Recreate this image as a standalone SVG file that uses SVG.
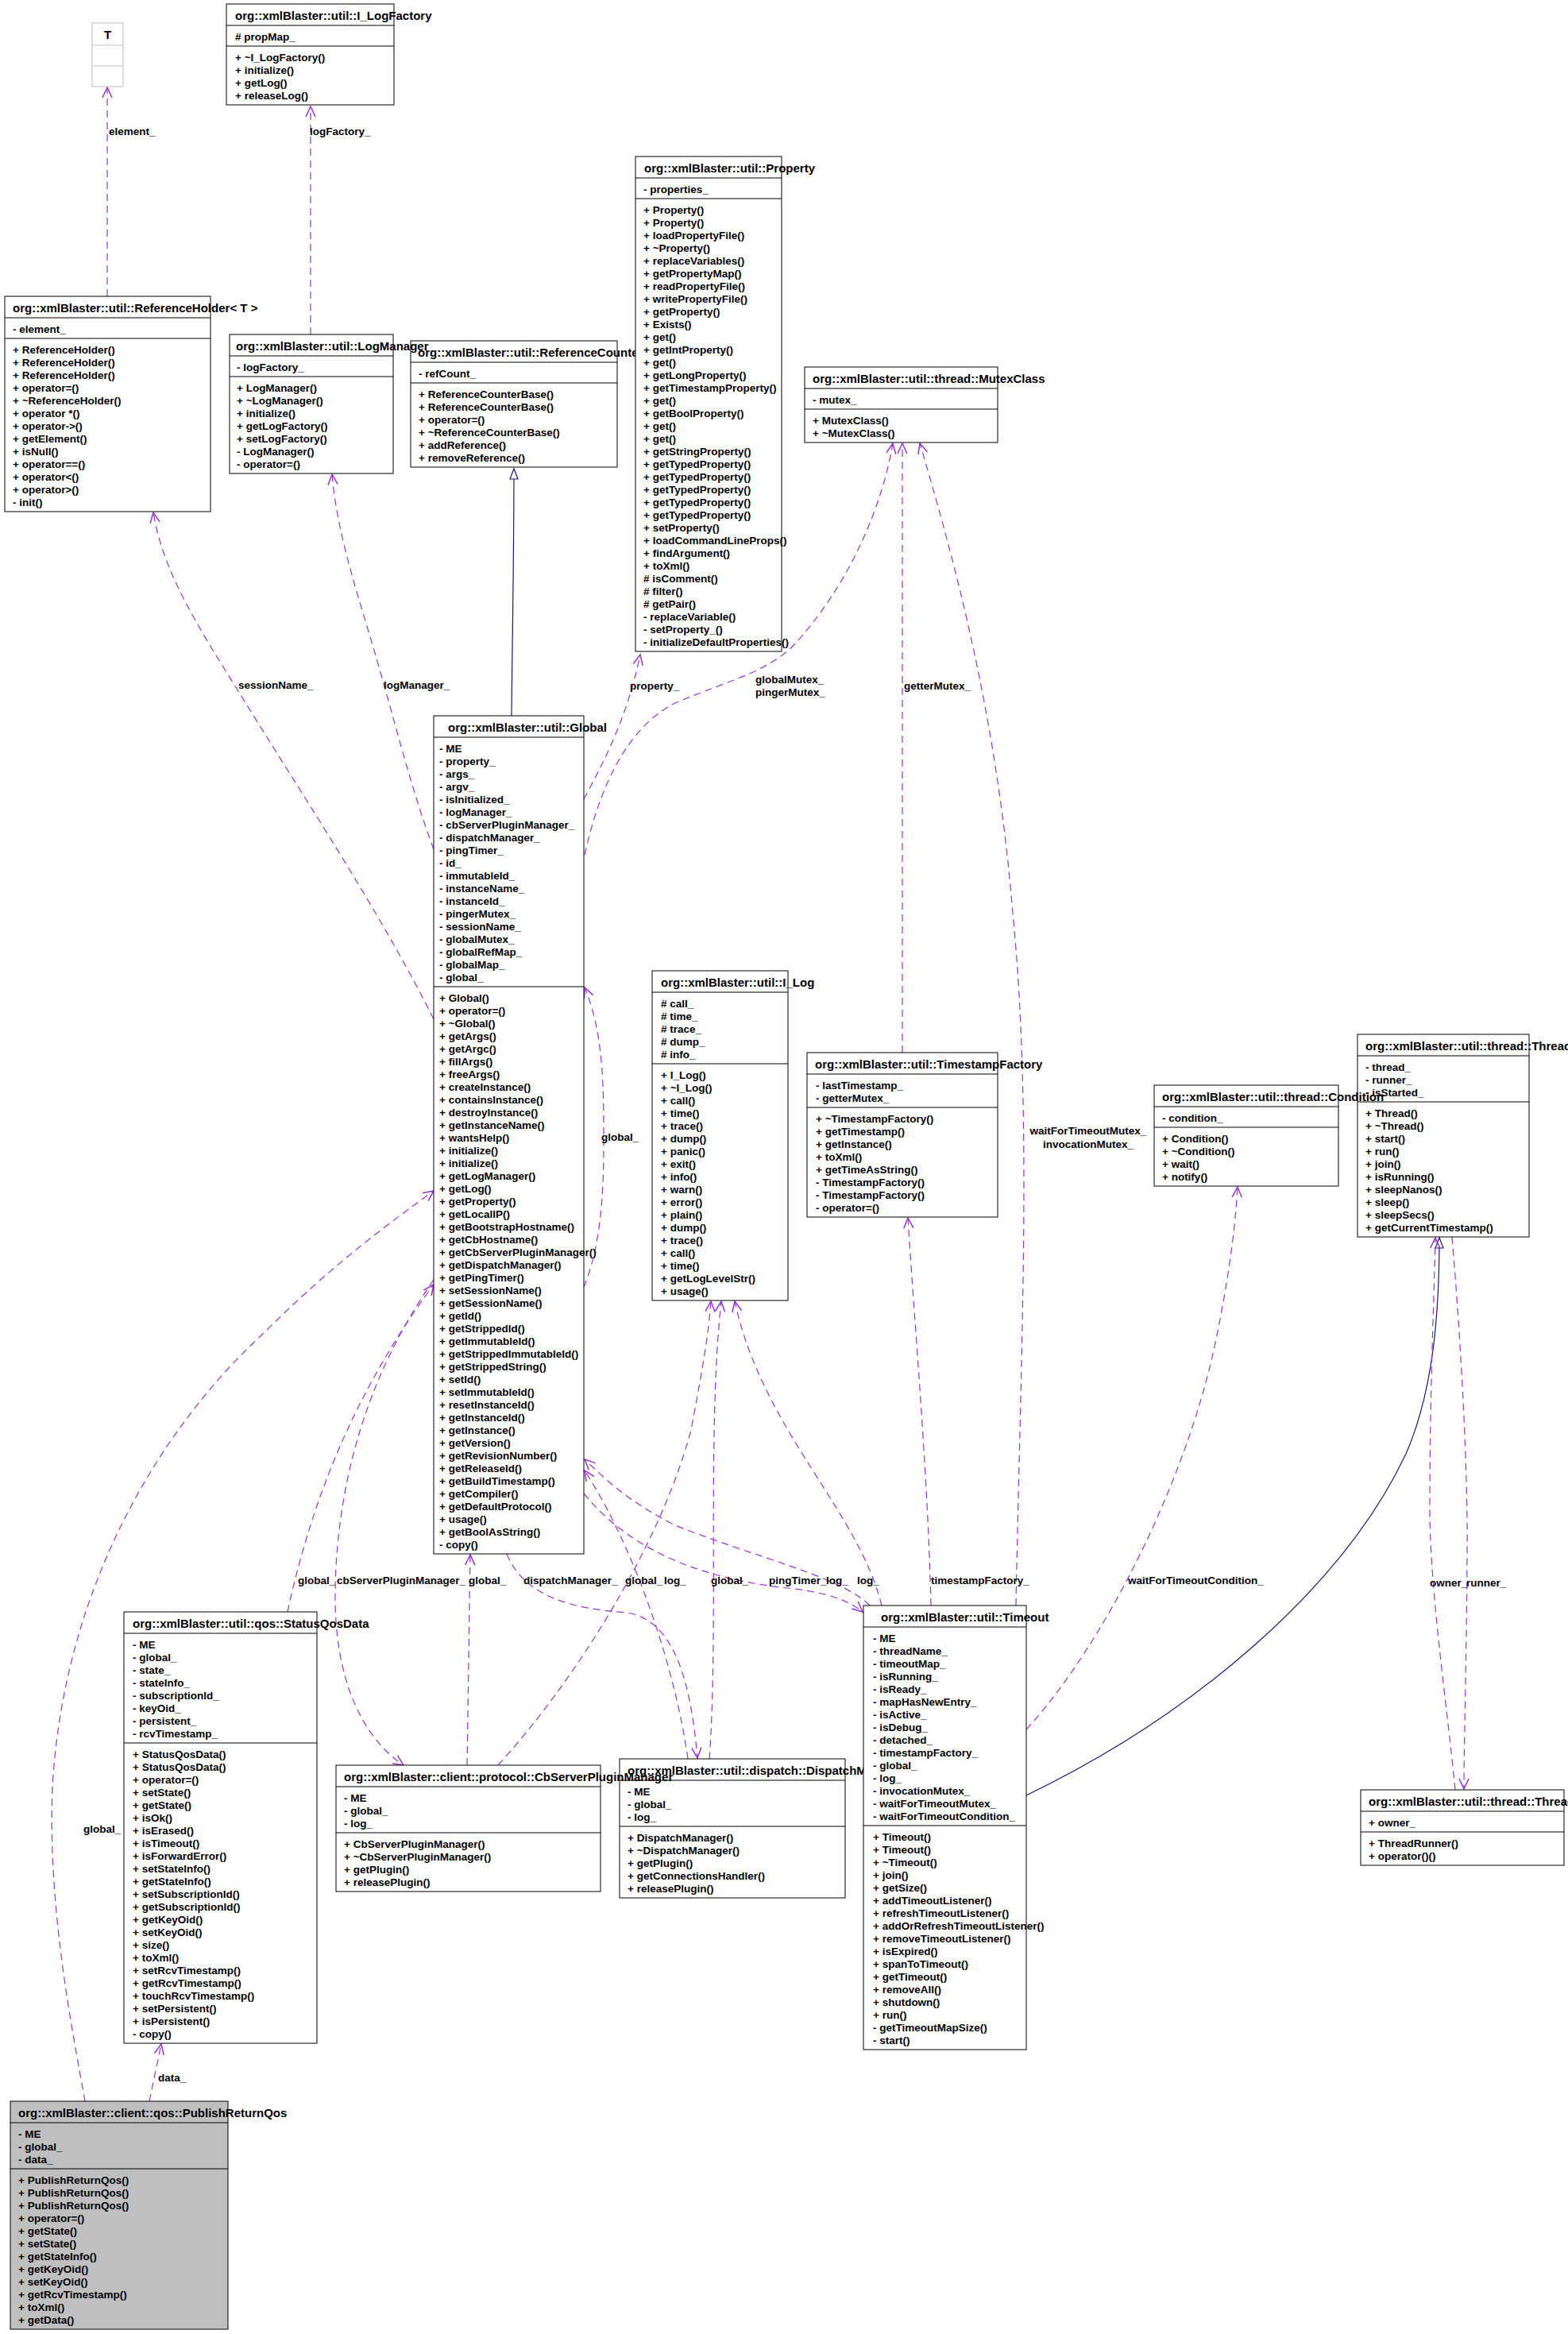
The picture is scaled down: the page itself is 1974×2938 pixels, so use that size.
<svg xmlns="http://www.w3.org/2000/svg" width="1974" height="2938" viewBox="0 0 1974 2938">
<style>
.b{fill:#fff;stroke:#000;stroke-width:1}
.g{fill:#bfbfbf;stroke:#000;stroke-width:1}
.s{stroke:#000;stroke-width:1}
text{font-family:"Liberation Sans",Arial,sans-serif;font-weight:bold;fill:#000}
.h{font-size:15px}
.m{font-size:13.5px}
.l{font-size:13.5px}
.e{fill:none;stroke:#9a32cd;stroke-width:1.2;stroke-dasharray:9,6}
.i{fill:none;stroke:#191970;stroke-width:1.2}
</style>
<defs>
<marker id="a" markerUnits="userSpaceOnUse" markerWidth="16" markerHeight="14" refX="13" refY="6" orient="auto" viewBox="-1 -1 16 14"><path d="M0,0 L13,6 L0,12" fill="none" stroke="#9a32cd" stroke-width="1.5" stroke-dasharray="none"/></marker>
<marker id="t" markerUnits="userSpaceOnUse" markerWidth="16" markerHeight="14" refX="13" refY="5" orient="auto" viewBox="-1 -1 16 14"><path d="M0,0 L13,5 L0,10 Z" fill="#fff" stroke="#191970" stroke-width="1.2" stroke-dasharray="none"/></marker>
</defs>
<rect width="1974" height="2938" fill="#fff"/>

<g id="edges">
<path class="e" marker-end="url(#a)" d="M135,373 L135,110"/>
<path class="e" marker-end="url(#a)" d="M391,421 L391,134"/>
<path class="i" marker-end="url(#t)" d="M644,901 C645,800 647,700 647,590"/>
<path class="e" marker-end="url(#a)" d="M735,1006 C765,950 790,900 806,824"/>
<path class="e" marker-end="url(#a)" d="M736,1076 C755,990 790,915 850,885 C920,855 975,845 1010,800 C1070,730 1110,640 1124,558"/>
<path class="e" marker-end="url(#a)" d="M1136,1325 L1136,558"/>
<path class="e" marker-end="url(#a)" d="M1279,2021 C1285,1700 1300,1400 1275,1150 C1255,900 1200,700 1158,558"/>
<path class="e" marker-end="url(#a)" d="M1172,2021 C1168,1850 1150,1650 1143,1533"/>
<path class="e" marker-end="url(#a)" d="M1292,2177 C1390,2070 1490,1870 1528,1700 C1545,1620 1555,1550 1558,1494"/>
<path class="i" marker-end="url(#t)" d="M1292,2260 C1500,2160 1690,2000 1770,1830 C1805,1750 1812,1650 1812,1558"/>
<path class="e" marker-end="url(#a)" d="M1832,2253 C1822,2150 1800,2000 1800,1900 C1800,1750 1805,1650 1807,1558"/>
<path class="e" marker-end="url(#a)" d="M1828,1557 C1840,1700 1848,1850 1847,1960 C1846,2100 1843,2200 1843,2252"/>
<path class="e" marker-end="url(#a)" d="M546,1283 C480,1150 380,1000 300,870 C250,790 205,720 193,645"/>
<path class="e" marker-end="url(#a)" d="M546,1069 C520,1000 500,920 480,850 C455,760 425,680 418,597"/>
<path class="e" marker-end="url(#a)" d="M735,1620 C760,1560 760,1480 760,1430 C760,1370 760,1300 736,1243"/>
<path class="e" marker-end="url(#a)" d="M107,2645 C90,2550 60,2400 66,2250 C80,2000 200,1800 330,1680 C420,1590 490,1540 546,1499"/>
<path class="e" marker-end="url(#a)" d="M188,2645 L203,2573"/>
<path class="e" marker-end="url(#a)" d="M362,2029 C390,1900 440,1760 546,1617"/>
<path class="e" marker-end="url(#a)" d="M546,1611 C470,1720 425,1850 422,2000 C420,2120 460,2190 508,2222"/>
<path class="e" marker-end="url(#a)" d="M588,2222 L592,1957"/>
<path class="e" marker-end="url(#a)" d="M627,2222 C720,2120 830,1950 870,1800 C885,1720 892,1680 895,1638"/>
<path class="e" marker-end="url(#a)" d="M638,1956 C660,2010 720,2025 790,2030 C850,2040 870,2120 878,2213"/>
<path class="e" marker-end="url(#a)" d="M866,2214 C850,2100 800,1950 736,1851"/>
<path class="e" marker-end="url(#a)" d="M893,2214 C905,2050 890,1800 908,1638"/>
<path class="e" marker-end="url(#a)" d="M735,1880 C800,1960 900,1990 1000,2000 C1040,2005 1070,2015 1086,2029"/>
<path class="e" marker-end="url(#a)" d="M1095,2021 C1060,1985 950,1960 850,1920 C790,1890 760,1860 736,1837"/>
<path class="e" marker-end="url(#a)" d="M1110,2021 C1080,1900 960,1800 925,1638"/>
</g>

<g id="edge-labels" class="l">
<text class="l" x="137" y="170">element_</text>
<text class="l" x="390" y="170">logFactory_</text>
<text class="l" x="300" y="867">sessionName_</text>
<text class="l" x="483" y="867">logManager_</text>
<text class="l" x="793" y="868">property_</text>
<text class="l" x="951" y="860">globalMutex_</text>
<text class="l" x="951" y="876">pingerMutex_</text>
<text class="l" x="1138" y="868">getterMutex_</text>
<text class="l" x="757" y="1436">global_</text>
<text class="l" x="1370" y="1428" text-anchor="middle">waitForTimeoutMutex_</text>
<text class="l" x="1370" y="1445" text-anchor="middle">invocationMutex_</text>
<text class="l" x="375" y="1994">global_</text>
<text class="l" x="424" y="1994">cbServerPluginManager_</text>
<text class="l" x="590" y="1994">global_</text>
<text class="l" x="659" y="1994">dispatchManager_</text>
<text class="l" x="787" y="1994">global_</text>
<text class="l" x="836" y="1994">log_</text>
<text class="l" x="895" y="1994">global_</text>
<text class="l" x="968" y="1994">pingTimer_</text>
<text class="l" x="1040" y="1994">log_</text>
<text class="l" x="1079" y="1994">log_</text>
<text class="l" x="1172" y="1994">timestampFactory_</text>
<text class="l" x="1420" y="1994">waitForTimeoutCondition_</text>
<text class="l" x="1800" y="1997">owner_</text>
<text class="l" x="1846" y="1997">runner_</text>
<text class="l" x="105" y="2307">global_</text>
<text class="l" x="199" y="2620">data_</text>
</g>

<g id="T">
<rect x="116" y="29" width="39" height="80" fill="#fff" stroke="#bfbfbf"/>
<line x1="116" y1="57" x2="155" y2="57" stroke="#bfbfbf"/>
<line x1="116" y1="83" x2="155" y2="83" stroke="#bfbfbf"/>
<text class="h" x="135.5" y="49" text-anchor="middle">T</text>
</g>

<g id="I_LogFactory">
<rect class="b" x="285" y="5" width="211" height="127"/>
<line class="s" x1="285" y1="32" x2="496" y2="32"/>
<line class="s" x1="285" y1="58" x2="496" y2="58"/>
<text class="h" x="296" y="25">org::xmlBlaster::util::I_LogFactory</text>
<text class="m" x="296" y="51"># propMap_</text>
<text class="m" x="296" y="77">+ ~I_LogFactory()</text>
<text class="m" x="296" y="93">+ initialize()</text>
<text class="m" x="296" y="109">+ getLog()</text>
<text class="m" x="296" y="125">+ releaseLog()</text>
</g>

<g id="ReferenceHolder">
<rect class="b" x="6" y="373" width="259" height="271"/>
<line class="s" x1="6" y1="400" x2="265" y2="400"/>
<line class="s" x1="6" y1="426" x2="265" y2="426"/>
<text class="h" x="16" y="393">org::xmlBlaster::util::ReferenceHolder&lt; T &gt;</text>
<text class="m" x="16" y="419">- element_</text>
<text class="m" x="16" y="445">+ ReferenceHolder()</text>
<text class="m" x="16" y="461">+ ReferenceHolder()</text>
<text class="m" x="16" y="477">+ ReferenceHolder()</text>
<text class="m" x="16" y="493">+ operator=()</text>
<text class="m" x="16" y="509">+ ~ReferenceHolder()</text>
<text class="m" x="16" y="525">+ operator *()</text>
<text class="m" x="16" y="541">+ operator-&gt;()</text>
<text class="m" x="16" y="557">+ getElement()</text>
<text class="m" x="16" y="573">+ isNull()</text>
<text class="m" x="16" y="589">+ operator==()</text>
<text class="m" x="16" y="605">+ operator&lt;()</text>
<text class="m" x="16" y="621">+ operator&gt;()</text>
<text class="m" x="16" y="637">- init()</text>
</g>

<g id="ReferenceCounterBase">
<rect class="b" x="517" y="429" width="260" height="159"/>
<line class="s" x1="517" y1="456" x2="777" y2="456"/>
<line class="s" x1="517" y1="482" x2="777" y2="482"/>
<text class="h" x="526" y="449">org::xmlBlaster::util::ReferenceCounterBase</text>
<text class="m" x="527" y="475">- refCount_</text>
<text class="m" x="527" y="501">+ ReferenceCounterBase()</text>
<text class="m" x="527" y="517">+ ReferenceCounterBase()</text>
<text class="m" x="527" y="533">+ operator=()</text>
<text class="m" x="527" y="549">+ ~ReferenceCounterBase()</text>
<text class="m" x="527" y="565">+ addReference()</text>
<text class="m" x="527" y="581">+ removeReference()</text>
</g>

<g id="LogManager">
<rect class="b" x="289" y="421" width="206" height="175"/>
<line class="s" x1="289" y1="448" x2="495" y2="448"/>
<line class="s" x1="289" y1="474" x2="495" y2="474"/>
<text class="h" x="297" y="441">org::xmlBlaster::util::LogManager</text>
<text class="m" x="298" y="467">- logFactory_</text>
<text class="m" x="298" y="493">+ LogManager()</text>
<text class="m" x="298" y="509">+ ~LogManager()</text>
<text class="m" x="298" y="525">+ initialize()</text>
<text class="m" x="298" y="541">+ getLogFactory()</text>
<text class="m" x="298" y="557">+ setLogFactory()</text>
<text class="m" x="298" y="573">- LogManager()</text>
<text class="m" x="298" y="589">- operator=()</text>
</g>

<g id="Property">
<rect class="b" x="800" y="197" width="184" height="623"/>
<line class="s" x1="800" y1="224" x2="984" y2="224"/>
<line class="s" x1="800" y1="250" x2="984" y2="250"/>
<text class="h" x="811" y="217">org::xmlBlaster::util::Property</text>
<text class="m" x="810" y="243">- properties_</text>
<text class="m" x="810" y="269">+ Property()</text>
<text class="m" x="810" y="285">+ Property()</text>
<text class="m" x="810" y="301">+ loadPropertyFile()</text>
<text class="m" x="810" y="317">+ ~Property()</text>
<text class="m" x="810" y="333">+ replaceVariables()</text>
<text class="m" x="810" y="349">+ getPropertyMap()</text>
<text class="m" x="810" y="365">+ readPropertyFile()</text>
<text class="m" x="810" y="381">+ writePropertyFile()</text>
<text class="m" x="810" y="397">+ getProperty()</text>
<text class="m" x="810" y="413">+ Exists()</text>
<text class="m" x="810" y="429">+ get()</text>
<text class="m" x="810" y="445">+ getIntProperty()</text>
<text class="m" x="810" y="461">+ get()</text>
<text class="m" x="810" y="477">+ getLongProperty()</text>
<text class="m" x="810" y="493">+ getTimestampProperty()</text>
<text class="m" x="810" y="509">+ get()</text>
<text class="m" x="810" y="525">+ getBoolProperty()</text>
<text class="m" x="810" y="541">+ get()</text>
<text class="m" x="810" y="557">+ get()</text>
<text class="m" x="810" y="573">+ getStringProperty()</text>
<text class="m" x="810" y="589">+ getTypedProperty()</text>
<text class="m" x="810" y="605">+ getTypedProperty()</text>
<text class="m" x="810" y="621">+ getTypedProperty()</text>
<text class="m" x="810" y="637">+ getTypedProperty()</text>
<text class="m" x="810" y="653">+ getTypedProperty()</text>
<text class="m" x="810" y="669">+ setProperty()</text>
<text class="m" x="810" y="685">+ loadCommandLineProps()</text>
<text class="m" x="810" y="701">+ findArgument()</text>
<text class="m" x="810" y="717">+ toXml()</text>
<text class="m" x="810" y="733"># isComment()</text>
<text class="m" x="810" y="749"># filter()</text>
<text class="m" x="810" y="765"># getPair()</text>
<text class="m" x="810" y="781">- replaceVariable()</text>
<text class="m" x="810" y="797">- setProperty_()</text>
<text class="m" x="810" y="813">- initializeDefaultProperties()</text>
</g>

<g id="MutexClass">
<rect class="b" x="1013" y="462" width="243" height="95"/>
<line class="s" x1="1013" y1="489" x2="1256" y2="489"/>
<line class="s" x1="1013" y1="515" x2="1256" y2="515"/>
<text class="h" x="1023" y="482">org::xmlBlaster::util::thread::MutexClass</text>
<text class="m" x="1023" y="508">- mutex_</text>
<text class="m" x="1023" y="534">+ MutexClass()</text>
<text class="m" x="1023" y="550">+ ~MutexClass()</text>
</g>

<g id="Global">
<rect class="b" x="546" y="901" width="189" height="1055"/>
<line class="s" x1="546" y1="928" x2="735" y2="928"/>
<line class="s" x1="546" y1="1242" x2="735" y2="1242"/>
<text class="h" x="564" y="921">org::xmlBlaster::util::Global</text>
<text class="m" x="553" y="947">- ME</text>
<text class="m" x="553" y="963">- property_</text>
<text class="m" x="553" y="979">- args_</text>
<text class="m" x="553" y="995">- argv_</text>
<text class="m" x="553" y="1011">- isInitialized_</text>
<text class="m" x="553" y="1027">- logManager_</text>
<text class="m" x="553" y="1043">- cbServerPluginManager_</text>
<text class="m" x="553" y="1059">- dispatchManager_</text>
<text class="m" x="553" y="1075">- pingTimer_</text>
<text class="m" x="553" y="1091">- id_</text>
<text class="m" x="553" y="1107">- immutableId_</text>
<text class="m" x="553" y="1123">- instanceName_</text>
<text class="m" x="553" y="1139">- instanceId_</text>
<text class="m" x="553" y="1155">- pingerMutex_</text>
<text class="m" x="553" y="1171">- sessionName_</text>
<text class="m" x="553" y="1187">- globalMutex_</text>
<text class="m" x="553" y="1203">- globalRefMap_</text>
<text class="m" x="553" y="1219">- globalMap_</text>
<text class="m" x="553" y="1235">- global_</text>
<text class="m" x="553" y="1261">+ Global()</text>
<text class="m" x="553" y="1277">+ operator=()</text>
<text class="m" x="553" y="1293">+ ~Global()</text>
<text class="m" x="553" y="1309">+ getArgs()</text>
<text class="m" x="553" y="1325">+ getArgc()</text>
<text class="m" x="553" y="1341">+ fillArgs()</text>
<text class="m" x="553" y="1357">+ freeArgs()</text>
<text class="m" x="553" y="1373">+ createInstance()</text>
<text class="m" x="553" y="1389">+ containsInstance()</text>
<text class="m" x="553" y="1405">+ destroyInstance()</text>
<text class="m" x="553" y="1421">+ getInstanceName()</text>
<text class="m" x="553" y="1437">+ wantsHelp()</text>
<text class="m" x="553" y="1453">+ initialize()</text>
<text class="m" x="553" y="1469">+ initialize()</text>
<text class="m" x="553" y="1485">+ getLogManager()</text>
<text class="m" x="553" y="1501">+ getLog()</text>
<text class="m" x="553" y="1517">+ getProperty()</text>
<text class="m" x="553" y="1533">+ getLocalIP()</text>
<text class="m" x="553" y="1549">+ getBootstrapHostname()</text>
<text class="m" x="553" y="1565">+ getCbHostname()</text>
<text class="m" x="553" y="1581">+ getCbServerPluginManager()</text>
<text class="m" x="553" y="1597">+ getDispatchManager()</text>
<text class="m" x="553" y="1613">+ getPingTimer()</text>
<text class="m" x="553" y="1629">+ setSessionName()</text>
<text class="m" x="553" y="1645">+ getSessionName()</text>
<text class="m" x="553" y="1661">+ getId()</text>
<text class="m" x="553" y="1677">+ getStrippedId()</text>
<text class="m" x="553" y="1693">+ getImmutableId()</text>
<text class="m" x="553" y="1709">+ getStrippedImmutableId()</text>
<text class="m" x="553" y="1725">+ getStrippedString()</text>
<text class="m" x="553" y="1741">+ setId()</text>
<text class="m" x="553" y="1757">+ setImmutableId()</text>
<text class="m" x="553" y="1773">+ resetInstanceId()</text>
<text class="m" x="553" y="1789">+ getInstanceId()</text>
<text class="m" x="553" y="1805">+ getInstance()</text>
<text class="m" x="553" y="1821">+ getVersion()</text>
<text class="m" x="553" y="1837">+ getRevisionNumber()</text>
<text class="m" x="553" y="1853">+ getReleaseId()</text>
<text class="m" x="553" y="1869">+ getBuildTimestamp()</text>
<text class="m" x="553" y="1885">+ getCompiler()</text>
<text class="m" x="553" y="1901">+ getDefaultProtocol()</text>
<text class="m" x="553" y="1917">+ usage()</text>
<text class="m" x="553" y="1933">+ getBoolAsString()</text>
<text class="m" x="553" y="1949">- copy()</text>
</g>

<g id="I_Log">
<rect class="b" x="821" y="1222" width="171" height="415"/>
<line class="s" x1="821" y1="1249" x2="992" y2="1249"/>
<line class="s" x1="821" y1="1339" x2="992" y2="1339"/>
<text class="h" x="832" y="1242">org::xmlBlaster::util::I_Log</text>
<text class="m" x="832" y="1268"># call_</text>
<text class="m" x="832" y="1284"># time_</text>
<text class="m" x="832" y="1300"># trace_</text>
<text class="m" x="832" y="1316"># dump_</text>
<text class="m" x="832" y="1332"># info_</text>
<text class="m" x="832" y="1358">+ I_Log()</text>
<text class="m" x="832" y="1374">+ ~I_Log()</text>
<text class="m" x="832" y="1390">+ call()</text>
<text class="m" x="832" y="1406">+ time()</text>
<text class="m" x="832" y="1422">+ trace()</text>
<text class="m" x="832" y="1438">+ dump()</text>
<text class="m" x="832" y="1454">+ panic()</text>
<text class="m" x="832" y="1470">+ exit()</text>
<text class="m" x="832" y="1486">+ info()</text>
<text class="m" x="832" y="1502">+ warn()</text>
<text class="m" x="832" y="1518">+ error()</text>
<text class="m" x="832" y="1534">+ plain()</text>
<text class="m" x="832" y="1550">+ dump()</text>
<text class="m" x="832" y="1566">+ trace()</text>
<text class="m" x="832" y="1582">+ call()</text>
<text class="m" x="832" y="1598">+ time()</text>
<text class="m" x="832" y="1614">+ getLogLevelStr()</text>
<text class="m" x="832" y="1630">+ usage()</text>
</g>

<g id="TimestampFactory">
<rect class="b" x="1016" y="1325" width="240" height="207"/>
<line class="s" x1="1016" y1="1352" x2="1256" y2="1352"/>
<line class="s" x1="1016" y1="1394" x2="1256" y2="1394"/>
<text class="h" x="1026" y="1345">org::xmlBlaster::util::TimestampFactory</text>
<text class="m" x="1027" y="1371">- lastTimestamp_</text>
<text class="m" x="1027" y="1387">- getterMutex_</text>
<text class="m" x="1027" y="1413">+ ~TimestampFactory()</text>
<text class="m" x="1027" y="1429">+ getTimestamp()</text>
<text class="m" x="1027" y="1445">+ getInstance()</text>
<text class="m" x="1027" y="1461">+ toXml()</text>
<text class="m" x="1027" y="1477">+ getTimeAsString()</text>
<text class="m" x="1027" y="1493">- TimestampFactory()</text>
<text class="m" x="1027" y="1509">- TimestampFactory()</text>
<text class="m" x="1027" y="1525">- operator=()</text>
</g>

<g id="Thread">
<rect class="b" x="1709" y="1302" width="216" height="255"/>
<line class="s" x1="1709" y1="1329" x2="1925" y2="1329"/>
<line class="s" x1="1709" y1="1387" x2="1925" y2="1387"/>
<text class="h" x="1719" y="1322">org::xmlBlaster::util::thread::Thread</text>
<text class="m" x="1719" y="1348">- thread_</text>
<text class="m" x="1719" y="1364">- runner_</text>
<text class="m" x="1719" y="1380">- isStarted_</text>
<text class="m" x="1719" y="1406">+ Thread()</text>
<text class="m" x="1719" y="1422">+ ~Thread()</text>
<text class="m" x="1719" y="1438">+ start()</text>
<text class="m" x="1719" y="1454">+ run()</text>
<text class="m" x="1719" y="1470">+ join()</text>
<text class="m" x="1719" y="1486">+ isRunning()</text>
<text class="m" x="1719" y="1502">+ sleepNanos()</text>
<text class="m" x="1719" y="1518">+ sleep()</text>
<text class="m" x="1719" y="1534">+ sleepSecs()</text>
<text class="m" x="1719" y="1550">+ getCurrentTimestamp()</text>
</g>

<g id="Condition">
<rect class="b" x="1453" y="1366" width="232" height="127"/>
<line class="s" x1="1453" y1="1393" x2="1685" y2="1393"/>
<line class="s" x1="1453" y1="1419" x2="1685" y2="1419"/>
<text class="h" x="1463" y="1386">org::xmlBlaster::util::thread::Condition</text>
<text class="m" x="1463" y="1412">- condition_</text>
<text class="m" x="1463" y="1438">+ Condition()</text>
<text class="m" x="1463" y="1454">+ ~Condition()</text>
<text class="m" x="1463" y="1470">+ wait()</text>
<text class="m" x="1463" y="1486">+ notify()</text>
</g>

<g id="StatusQosData">
<rect class="b" x="156" y="2029" width="243" height="543"/>
<line class="s" x1="156" y1="2056" x2="399" y2="2056"/>
<line class="s" x1="156" y1="2194" x2="399" y2="2194"/>
<text class="h" x="167" y="2049">org::xmlBlaster::util::qos::StatusQosData</text>
<text class="m" x="167" y="2075">- ME</text>
<text class="m" x="167" y="2091">- global_</text>
<text class="m" x="167" y="2107">- state_</text>
<text class="m" x="167" y="2123">- stateInfo_</text>
<text class="m" x="167" y="2139">- subscriptionId_</text>
<text class="m" x="167" y="2155">- keyOid_</text>
<text class="m" x="167" y="2171">- persistent_</text>
<text class="m" x="167" y="2187">- rcvTimestamp_</text>
<text class="m" x="167" y="2213">+ StatusQosData()</text>
<text class="m" x="167" y="2229">+ StatusQosData()</text>
<text class="m" x="167" y="2245">+ operator=()</text>
<text class="m" x="167" y="2261">+ setState()</text>
<text class="m" x="167" y="2277">+ getState()</text>
<text class="m" x="167" y="2293">+ isOk()</text>
<text class="m" x="167" y="2309">+ isErased()</text>
<text class="m" x="167" y="2325">+ isTimeout()</text>
<text class="m" x="167" y="2341">+ isForwardError()</text>
<text class="m" x="167" y="2357">+ setStateInfo()</text>
<text class="m" x="167" y="2373">+ getStateInfo()</text>
<text class="m" x="167" y="2389">+ setSubscriptionId()</text>
<text class="m" x="167" y="2405">+ getSubscriptionId()</text>
<text class="m" x="167" y="2421">+ getKeyOid()</text>
<text class="m" x="167" y="2437">+ setKeyOid()</text>
<text class="m" x="167" y="2453">+ size()</text>
<text class="m" x="167" y="2469">+ toXml()</text>
<text class="m" x="167" y="2485">+ setRcvTimestamp()</text>
<text class="m" x="167" y="2501">+ getRcvTimestamp()</text>
<text class="m" x="167" y="2517">+ touchRcvTimestamp()</text>
<text class="m" x="167" y="2533">+ setPersistent()</text>
<text class="m" x="167" y="2549">+ isPersistent()</text>
<text class="m" x="167" y="2565">- copy()</text>
</g>

<g id="DispatchManager">
<rect class="b" x="780" y="2214" width="284" height="175"/>
<line class="s" x1="780" y1="2241" x2="1064" y2="2241"/>
<line class="s" x1="780" y1="2299" x2="1064" y2="2299"/>
<text class="h" x="790" y="2234">org::xmlBlaster::util::dispatch::DispatchManager</text>
<text class="m" x="790" y="2260">- ME</text>
<text class="m" x="790" y="2276">- global_</text>
<text class="m" x="790" y="2292">- log_</text>
<text class="m" x="790" y="2318">+ DispatchManager()</text>
<text class="m" x="790" y="2334">+ ~DispatchManager()</text>
<text class="m" x="790" y="2350">+ getPlugin()</text>
<text class="m" x="790" y="2366">+ getConnectionsHandler()</text>
<text class="m" x="790" y="2382">+ releasePlugin()</text>
</g>

<g id="Timeout">
<rect class="b" x="1087" y="2021" width="205" height="559"/>
<line class="s" x1="1087" y1="2048" x2="1292" y2="2048"/>
<line class="s" x1="1087" y1="2298" x2="1292" y2="2298"/>
<text class="h" x="1109" y="2041">org::xmlBlaster::util::Timeout</text>
<text class="m" x="1099" y="2067">- ME</text>
<text class="m" x="1099" y="2083">- threadName_</text>
<text class="m" x="1099" y="2099">- timeoutMap_</text>
<text class="m" x="1099" y="2115">- isRunning_</text>
<text class="m" x="1099" y="2131">- isReady_</text>
<text class="m" x="1099" y="2147">- mapHasNewEntry_</text>
<text class="m" x="1099" y="2163">- isActive_</text>
<text class="m" x="1099" y="2179">- isDebug_</text>
<text class="m" x="1099" y="2195">- detached_</text>
<text class="m" x="1099" y="2211">- timestampFactory_</text>
<text class="m" x="1099" y="2227">- global_</text>
<text class="m" x="1099" y="2243">- log_</text>
<text class="m" x="1099" y="2259">- invocationMutex_</text>
<text class="m" x="1099" y="2275">- waitForTimeoutMutex_</text>
<text class="m" x="1099" y="2291">- waitForTimeoutCondition_</text>
<text class="m" x="1099" y="2317">+ Timeout()</text>
<text class="m" x="1099" y="2333">+ Timeout()</text>
<text class="m" x="1099" y="2349">+ ~Timeout()</text>
<text class="m" x="1099" y="2365">+ join()</text>
<text class="m" x="1099" y="2381">+ getSize()</text>
<text class="m" x="1099" y="2397">+ addTimeoutListener()</text>
<text class="m" x="1099" y="2413">+ refreshTimeoutListener()</text>
<text class="m" x="1099" y="2429">+ addOrRefreshTimeoutListener()</text>
<text class="m" x="1099" y="2445">+ removeTimeoutListener()</text>
<text class="m" x="1099" y="2461">+ isExpired()</text>
<text class="m" x="1099" y="2477">+ spanToTimeout()</text>
<text class="m" x="1099" y="2493">+ getTimeout()</text>
<text class="m" x="1099" y="2509">+ removeAll()</text>
<text class="m" x="1099" y="2525">+ shutdown()</text>
<text class="m" x="1099" y="2541">+ run()</text>
<text class="m" x="1099" y="2557">- getTimeoutMapSize()</text>
<text class="m" x="1099" y="2573">- start()</text>
</g>

<g id="CbServerPluginManager">
<rect class="b" x="423" y="2222" width="333" height="159"/>
<line class="s" x1="423" y1="2249" x2="756" y2="2249"/>
<line class="s" x1="423" y1="2307" x2="756" y2="2307"/>
<text class="h" x="433" y="2242">org::xmlBlaster::client::protocol::CbServerPluginManager</text>
<text class="m" x="433" y="2268">- ME</text>
<text class="m" x="433" y="2284">- global_</text>
<text class="m" x="433" y="2300">- log_</text>
<text class="m" x="433" y="2326">+ CbServerPluginManager()</text>
<text class="m" x="433" y="2342">+ ~CbServerPluginManager()</text>
<text class="m" x="433" y="2358">+ getPlugin()</text>
<text class="m" x="433" y="2374">+ releasePlugin()</text>
</g>

<g id="ThreadRunner">
<rect class="b" x="1713" y="2253" width="256" height="95"/>
<line class="s" x1="1713" y1="2280" x2="1969" y2="2280"/>
<line class="s" x1="1713" y1="2306" x2="1969" y2="2306"/>
<text class="h" x="1723" y="2273">org::xmlBlaster::util::thread::ThreadRunner</text>
<text class="m" x="1723" y="2299">+ owner_</text>
<text class="m" x="1723" y="2325">+ ThreadRunner()</text>
<text class="m" x="1723" y="2341">+ operator()()</text>
</g>

<g id="PublishReturnQos">
<rect class="g" x="13" y="2645" width="274" height="287"/>
<line class="s" x1="13" y1="2672" x2="287" y2="2672"/>
<line class="s" x1="13" y1="2730" x2="287" y2="2730"/>
<text class="h" x="23" y="2665">org::xmlBlaster::client::qos::PublishReturnQos</text>
<text class="m" x="23" y="2691">- ME</text>
<text class="m" x="23" y="2707">- global_</text>
<text class="m" x="23" y="2723">- data_</text>
<text class="m" x="23" y="2749">+ PublishReturnQos()</text>
<text class="m" x="23" y="2765">+ PublishReturnQos()</text>
<text class="m" x="23" y="2781">+ PublishReturnQos()</text>
<text class="m" x="23" y="2797">+ operator=()</text>
<text class="m" x="23" y="2813">+ getState()</text>
<text class="m" x="23" y="2829">+ setState()</text>
<text class="m" x="23" y="2845">+ getStateInfo()</text>
<text class="m" x="23" y="2861">+ getKeyOid()</text>
<text class="m" x="23" y="2877">+ setKeyOid()</text>
<text class="m" x="23" y="2893">+ getRcvTimestamp()</text>
<text class="m" x="23" y="2909">+ toXml()</text>
<text class="m" x="23" y="2925">+ getData()</text>
</g>
</svg>
